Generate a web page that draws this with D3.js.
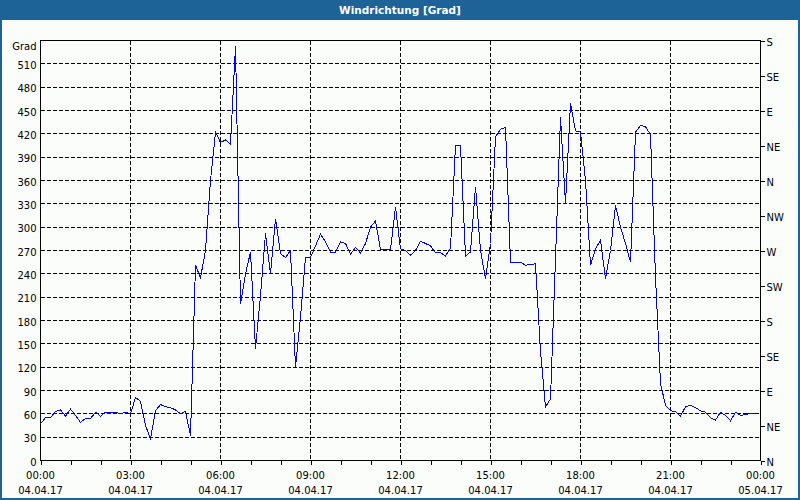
<!DOCTYPE html>
<html>
<head>
<meta charset="utf-8">
<script src="https://cdn.jsdelivr.net/npm/d3@7/dist/d3.min.js"></script>
<style>
  html, body { margin: 0; padding: 0; background: #fbfdfb; }
  svg { display: block; font-family: "DejaVu Sans", sans-serif; }
</style>
</head>
<body>
<div id="chart"></div>
<script>
// wind direction in degrees, one reading every 10 minutes from 04.04.17 00:00
const startTime = new Date(2017, 3, 4, 0, 0);
const endTime = new Date(2017, 3, 5, 0, 0);
const stepMinutes = 10;
const windDir = [
  47, 55, 55, 63, 65, 57, 66, 58, 49, 54, 54, 62, 57, 62, 62, 62, 60, 62, 60, 81,
  76, 45, 28, 64, 72, 69, 68, 65, 60, 63, 32, 251, 235, 270, 360, 422, 409, 412, 407, 533,
  201, 240, 268, 144, 212, 292, 240, 311, 266, 261, 270, 120, 184, 261, 261, 276, 291, 281, 268, 268,
  281, 279, 265, 274, 267, 279, 300, 308, 271, 271, 271, 326, 272, 270, 264, 270, 282, 279, 276, 267,
  267, 263, 273, 405, 405, 263, 268, 352, 270, 234, 279, 416, 426, 428, 255, 255, 255, 251, 252, 253,
  140, 69, 79, 260, 441, 330, 459, 424, 422, 360, 251, 272, 283, 234, 270, 328, 300, 279, 255, 422,
  431, 429, 419, 236, 99, 71, 64, 63, 57, 69, 71, 68, 64, 62, 55, 52, 62, 58, 51, 62,
  58, 59, 61, 61
];
const gradTicks = d3.range(0, 511, 30);
const compassTicks = d3.range(0, 541, 45);
const compassLabels = ["N", "NE", "E", "SE", "S", "SW", "W", "NW", "N", "NE", "E", "SE", "S"];
const title = "Windrichtung [Grad]";
const unitLabel = "Grad";

const W = 800, H = 500;
const plot = {left: 40, right: 760, top: 40, bottom: 460};
const barBlue = "#1e6398";

let svg = d3.select("#chart").append("svg")
    .attr("width", W)
    .attr("height", H);

svg.append("rect").attr("width", W).attr("height", H).attr("fill", "#fbfdfb");

//title bar and frame
svg.append("rect")
    .attr("x", 0).attr("y", 0).attr("width", W).attr("height", 20)
    .attr("fill", barBlue);
svg.append("rect")
    .attr("x", 1).attr("y", 1).attr("width", W - 2).attr("height", H - 2)
    .attr("fill", "none").attr("stroke", barBlue).attr("stroke-width", 2);
svg.append("text")
    .attr("x", W / 2).attr("y", 14)
    .attr("text-anchor", "middle")
    .attr("fill", "#ffffff")
    .attr("font-weight", "bold")
    .attr("font-size", "10.5px")
    .text(title);

let x = d3.scaleTime().domain([startTime, endTime]).range([plot.left, plot.right]);
let y = d3.scaleLinear().domain([0, 540]).range([plot.bottom, plot.top]);

let data = windDir.map((v, i) => ({t: d3.timeMinute.offset(startTime, i * stepMinutes), v: v}));

let g = svg.append("g").attr("transform", "translate(0.5,0.5)");

//horizontal grid
g.append("g")
    .selectAll("line")
    .data(gradTicks.filter(d => d > 0))
    .enter().append("line")
    .attr("x1", plot.left).attr("x2", plot.right)
    .attr("y1", d => y(d)).attr("y2", d => y(d))
    .attr("stroke", "#000").attr("stroke-dasharray", "4,2")
    .attr("shape-rendering", "crispEdges");

//vertical grid every 3 hours
let majorTimes = d3.timeHour.every(3).range(startTime, d3.timeMinute.offset(endTime, 1));
g.append("g")
    .selectAll("line")
    .data(majorTimes.filter(d => d > startTime && d < endTime))
    .enter().append("line")
    .attr("x1", d => x(d)).attr("x2", d => x(d))
    .attr("y1", plot.top).attr("y2", plot.bottom)
    .attr("stroke", "#000").attr("stroke-dasharray", "4,2")
    .attr("shape-rendering", "crispEdges");

//frame
g.append("rect")
    .attr("x", plot.left).attr("y", plot.top)
    .attr("width", plot.right - plot.left).attr("height", plot.bottom - plot.top)
    .attr("fill", "none").attr("stroke", "#000")
    .attr("shape-rendering", "crispEdges");

//left axis
let leftAxis = g.append("g")
    .attr("transform", "translate(" + plot.left + ",0)")
    .call(d3.axisLeft(y).tickValues(gradTicks).tickSize(0).tickPadding(4));
leftAxis.select(".domain").remove();
leftAxis.selectAll("text")
    .attr("font-family", "DejaVu Sans").attr("font-size", "10px")
    .attr("fill", "#000").attr("dy", "0.45em");
g.append("text")
    .attr("x", plot.left - 4).attr("y", 49)
    .attr("text-anchor", "end")
    .attr("font-size", "10px")
    .text(unitLabel);

//right axis
let rightAxis = g.append("g")
    .attr("transform", "translate(" + plot.right + ",0)")
    .call(d3.axisRight(y).tickValues(compassTicks).tickSize(4).tickPadding(2)
        .tickFormat((d, i) => compassLabels[i]));
rightAxis.select(".domain").remove();
rightAxis.selectAll("line").attr("shape-rendering", "crispEdges");
rightAxis.selectAll("text")
    .attr("font-family", "DejaVu Sans").attr("font-size", "10px")
    .attr("fill", "#000").attr("dy", "0.45em");

//bottom axis: hourly ticks, labels every 3 hours
let bottomAxis = g.append("g")
    .attr("transform", "translate(0," + plot.bottom + ")")
    .call(d3.axisBottom(x).ticks(d3.timeHour.every(1)).tickSize(4).tickFormat(""));
bottomAxis.select(".domain").remove();
bottomAxis.selectAll("line").attr("shape-rendering", "crispEdges");

let fmtTime = d3.timeFormat("%H:%M");
let fmtDate = d3.timeFormat("%d.%m.%y");
let labels = g.append("g").attr("font-size", "10px").attr("text-anchor", "middle");
labels.selectAll(".t")
    .data(majorTimes)
    .enter().append("text")
    .attr("class", "t")
    .attr("x", d => x(d)).attr("y", 478)
    .text(d => fmtTime(d));
labels.selectAll(".d")
    .data(majorTimes)
    .enter().append("text")
    .attr("class", "d")
    .attr("x", d => x(d)).attr("y", 493)
    .text(d => fmtDate(d));

//wind direction line
let line = d3.line()
    .x(d => x(d.t))
    .y(d => y(d.v));

g.append("path")
    .datum(data)
    .attr("d", line)
    .attr("fill", "none")
    .attr("stroke", "#0000ff")
    .attr("stroke-width", 1)
    .attr("shape-rendering", "crispEdges");
</script>
</body>
</html>
